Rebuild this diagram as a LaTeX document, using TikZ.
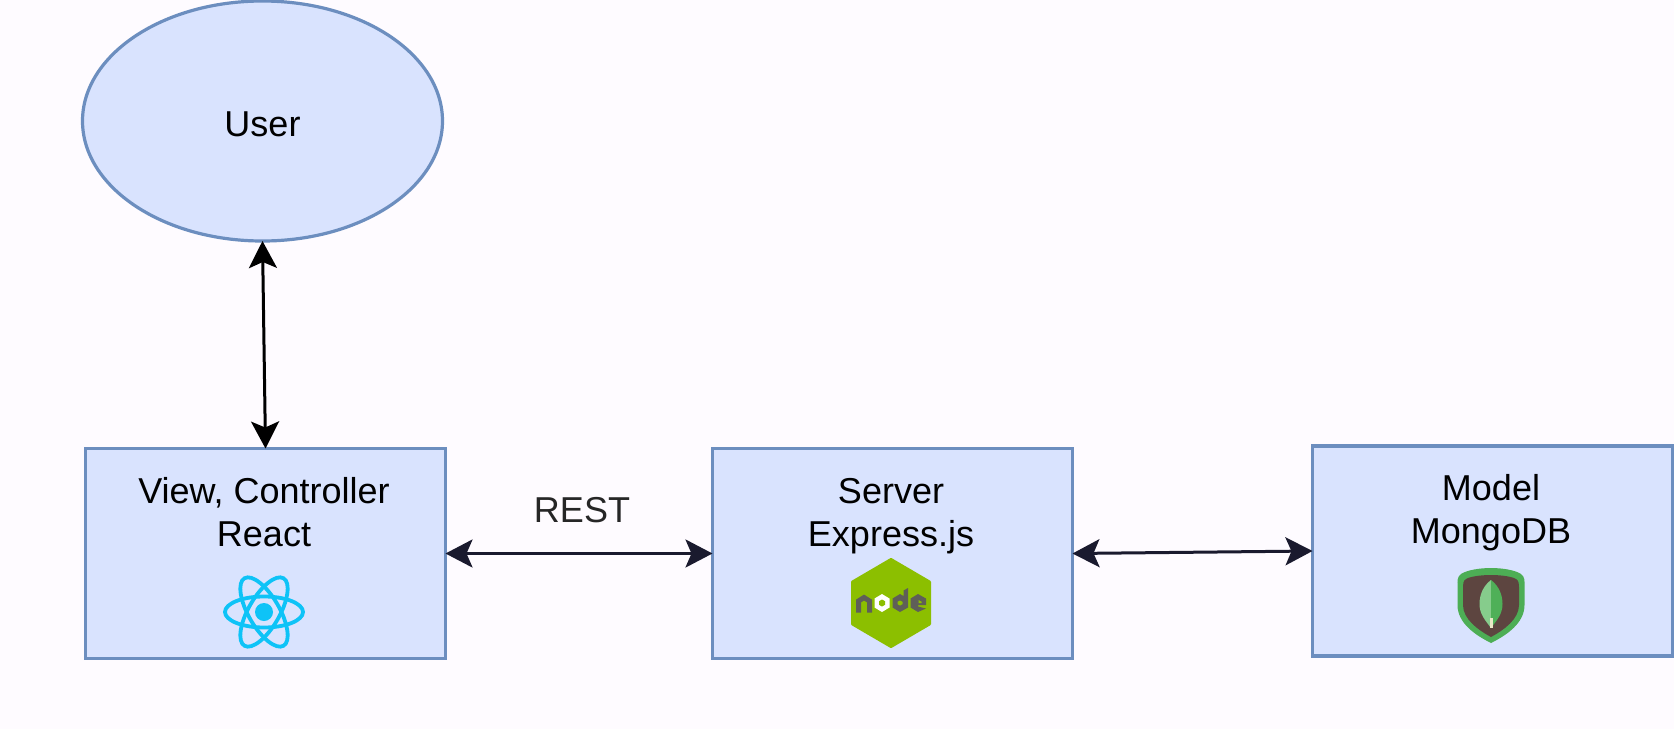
\documentclass[tikz,border=0pt]{standalone}
\usepackage{fontspec}
\setmainfont{Liberation Sans}
\usetikzlibrary{arrows.meta,shapes.geometric,calc}
\definecolor{pagebg}{HTML}{FEFBFF}
\definecolor{boxfill}{HTML}{D9E3FE}
\definecolor{boxline}{HTML}{6C8EBF}
\definecolor{arrowdark}{HTML}{1A1A2E}
\definecolor{reactblue}{HTML}{0EC3F7}
\definecolor{nodegreen}{HTML}{8CBF00}
\definecolor{nodegray}{HTML}{5F5F58}
\definecolor{mongoouter}{HTML}{4DAE55}
\definecolor{mongobrown}{HTML}{5D4540}
\definecolor{leaflight}{HTML}{86CC8C}
\definecolor{leafdark}{HTML}{4FB058}
\definecolor{leafstem}{HTML}{E9E9C8}
\tikzset{
  x=1pt,y=-1pt,
  tierbox/.style={rectangle,draw=boxline,fill=boxfill,line width=3.2pt,minimum width=360pt,minimum height=210pt,inner sep=0pt,outer sep=0pt},
  usershape/.style={ellipse,draw=boxline,fill=boxfill,line width=3.2pt,minimum width=360pt,minimum height=240pt,inner sep=0pt,outer sep=0pt,font=\fontsize{36}{43}\selectfont},
  tierlabel/.style={align=center,font=\fontsize{36}{43}\selectfont,inner sep=0pt,text=black},
  link/.style={line width=3pt,{Stealth[length=27pt,width=28pt,inset=6pt]}-{Stealth[length=27pt,width=28pt,inset=6pt]}},
}
\begin{document}
\begin{tikzpicture}
\useasboundingbox (0,0) rectangle (1674,729);
\fill[pagebg] (0,0) rectangle (1674,729);

\node[usershape] (user) at (262.5,121) {\raisebox{-2pt}[26pt][0pt]{User}};
\node[tierbox] (view) at (265.5,553.5) {};
\node[tierbox] (server) at (892.5,553.5) {};
\node[tierbox] (model) at (1492.5,551) {};

\node[tierlabel] (viewtext) at (264,512.5) {View, Controller\\React};
\node[tierlabel] (servertext) at (891,516) {Server\\Express.js};
\node[tierlabel] (modeltext) at (1491,512.5) {Model\\MongoDB};
\node[tierlabel,text=black!85] (rest) at (582,510) {REST};

\draw[link,black] (user.south) -- (view.north);
\draw[link,arrowdark] (view.east) -- (server.west);
\draw[link,arrowdark] (server.east) -- (model.west);

% React logo
\begin{scope}[shift={(264,612)}]
  \foreach \a in {0,60,120}
    \draw[reactblue,line width=3.8pt,rotate=\a] (0,0) ellipse [x radius=39pt,y radius=15.5pt];
  \fill[reactblue] (0,0) circle (9pt);
\end{scope}

% Node.js logo
\begin{scope}[shift={(891,603)}]
  \fill[nodegreen,draw=nodegreen,line width=3pt,line join=round]
    (0,-43.5) -- (38.5,-21) -- (38.5,21) -- (0,43.5) -- (-38.5,21) -- (-38.5,-21) -- cycle;
  % n
  \draw[nodegray,line width=5pt] (-32.5,9.5) -- (-32.5,-2) -- (-27,-5.5) -- (-21.5,-2) -- (-21.5,9.5);
  % o
  \fill[white] (-9,-9) -- (-1.5,-4.5) -- (-1.5,4.5) -- (-9,9) -- (-16.5,4.5) -- (-16.5,-4.5) -- cycle;
  \fill[nodegreen] (-9,-3.5) -- (-6,-1.8) -- (-6,1.8) -- (-9,3.5) -- (-12,1.8) -- (-12,-1.8) -- cycle;
  % d
  \fill[nodegray] (17,-15) -- (17,4.5) -- (9,9) -- (1.5,4.5) -- (1.5,-4.5) -- (9,-9) -- (12.5,-7) -- (12.5,-12.5) -- cycle;
  \fill[nodegreen] (9,-2.5) -- (11.5,-1.2) -- (11.5,1.2) -- (9,2.5) -- (6.5,1.2) -- (6.5,-1.2) -- cycle;
  % e
  \fill[nodegray] (27,-9) -- (35,-4.5) -- (35,2) -- (27,2) -- (27,3.5) -- (35,5.5) -- (27,9) -- (19.5,4.5) -- (19.5,-4.5) -- cycle;
  \fill[nodegreen] (27.5,-3) -- (30.5,-1.3) -- (30.5,0.2) -- (27.5,0.2) -- cycle;
\end{scope}

% MongoDB logo
\begin{scope}[shift={(1491,605)}]
  \fill[mongoouter] (0,-37) .. controls (-11,-37) and (-24,-35) .. (-30,-31)
    .. controls (-34,-28) and (-33.5,-24) .. (-33.5,-20)
    -- (-33.5,0) .. controls (-33.5,18) and (-16,30) .. (0,38)
    .. controls (16,30) and (33.5,18) .. (33.5,0)
    -- (33.5,-20) .. controls (33.5,-24) and (34,-28) .. (30,-31)
    .. controls (24,-35) and (11,-37) .. (0,-37) -- cycle;
  \fill[mongobrown] (0,-30) .. controls (-10,-30) and (-21,-28.5) .. (-25,-26)
    .. controls (-28,-24) and (-28,-21) .. (-28,-18)
    -- (-28,0) .. controls (-28,14) and (-13,25) .. (0,32)
    .. controls (13,25) and (28,14) .. (28,0)
    -- (28,-18) .. controls (28,-21) and (28,-24) .. (25,-26)
    .. controls (21,-28.5) and (10,-30) .. (0,-30) -- cycle;
  \fill[leaflight] (0,-25) .. controls (-8,-19) and (-11.5,-10) .. (-11.5,-1)
    .. controls (-11.5,9) and (-6,15) .. (0,23) -- cycle;
  \fill[leafdark] (0,-25) .. controls (8,-19) and (11.5,-10) .. (11.5,-1)
    .. controls (11.5,9) and (6,15) .. (0,23) -- cycle;
  \fill[leafstem] (-1.5,13) -- (1.5,13) -- (1.5,23) -- (-1.5,23) -- cycle;
\end{scope}
\end{tikzpicture}
\end{document}
